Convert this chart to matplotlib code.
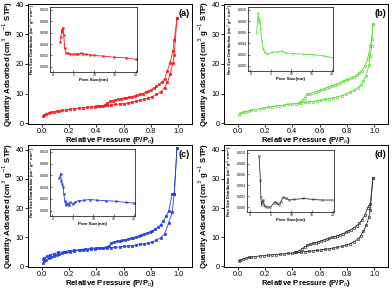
import matplotlib
matplotlib.use("Agg")
import matplotlib.pyplot as plt

plt.rcParams['font.family'] = ['Liberation Sans', 'DejaVu Sans']

# ---------------- data ----------------
# Panel (a)
a_ads_x = [0.01, 0.02, 0.03, 0.05, 0.07, 0.09, 0.11, 0.13, 0.15, 0.18, 0.21, 0.24, 0.27, 0.30, 0.33, 0.36, 0.39, 0.42, 0.45, 0.48, 0.51, 0.54, 0.57, 0.60, 0.63, 0.66, 0.69, 0.72, 0.75, 0.78, 0.81, 0.84, 0.87, 0.90, 0.92, 0.94, 0.96, 0.97, 0.99]
a_ads_y = [2.5, 2.9, 3.2, 3.5, 3.7, 3.9, 4.0, 4.2, 4.3, 4.5, 4.7, 4.9, 5.0, 5.2, 5.3, 5.5, 5.6, 5.7, 5.8, 6.0, 6.1, 6.3, 6.5, 6.6, 6.8, 7.1, 7.4, 7.7, 8.0, 8.5, 9.0, 9.7, 10.6, 12.0, 13.8, 16.5, 20.5, 23.0, 35.5]
a_des_x = [0.99, 0.97, 0.96, 0.94, 0.92, 0.90, 0.88, 0.86, 0.84, 0.82, 0.80, 0.78, 0.76, 0.74, 0.72, 0.70, 0.68, 0.66, 0.64, 0.62, 0.60, 0.58, 0.56, 0.54, 0.52, 0.50, 0.48, 0.46, 0.44, 0.42, 0.40]
a_des_y = [35.5, 28.0, 24.5, 20.5, 17.8, 15.0, 13.9, 13.1, 12.4, 11.8, 11.3, 10.8, 10.4, 10.0, 9.7, 9.4, 9.2, 9.0, 8.8, 8.6, 8.4, 8.2, 8.0, 7.8, 7.6, 7.4, 6.8, 6.1, 5.9, 5.8, 5.7]
a_psd_x = [1.9, 2.0, 2.2, 2.3, 2.4, 2.7, 2.9, 3.2, 3.7, 4.3, 4.9, 5.6, 6.1, 6.7, 7.3, 8.1, 8.9, 10.0, 12.0, 14.6, 17.5, 20.0]
a_psd_y = [0.0044, 0.0052, 0.0065, 0.0062, 0.0069, 0.0056, 0.0033, 0.0024, 0.0024, 0.0023, 0.0022, 0.0023, 0.0022, 0.0024, 0.0023, 0.0022, 0.0021, 0.0020, 0.0019, 0.0017, 0.0016, 0.0013]

# Panel (b)
b_ads_x = [0.01, 0.02, 0.04, 0.06, 0.08, 0.10, 0.13, 0.16, 0.19, 0.22, 0.25, 0.28, 0.31, 0.34, 0.37, 0.40, 0.43, 0.46, 0.49, 0.52, 0.55, 0.58, 0.61, 0.64, 0.67, 0.70, 0.73, 0.76, 0.79, 0.82, 0.85, 0.88, 0.90, 0.92, 0.94, 0.96, 0.97, 0.98, 0.99]
b_ads_y = [2.9, 3.3, 3.6, 3.9, 4.1, 4.3, 4.6, 4.9, 5.2, 5.4, 5.6, 5.8, 5.9, 6.1, 6.3, 6.5, 6.6, 6.8, 7.0, 7.1, 7.3, 7.5, 7.8, 8.0, 8.3, 8.6, 8.9, 9.3, 9.8, 10.4, 11.1, 12.0, 13.0, 14.3, 16.0, 19.5, 22.8, 26.0, 33.5]
b_des_x = [0.99, 0.98, 0.97, 0.96, 0.95, 0.93, 0.91, 0.89, 0.87, 0.85, 0.83, 0.81, 0.79, 0.77, 0.75, 0.73, 0.71, 0.69, 0.67, 0.65, 0.63, 0.61, 0.59, 0.57, 0.55, 0.53, 0.51, 0.49, 0.47, 0.45]
b_des_y = [33.5, 28.5, 26.0, 23.5, 21.7, 19.3, 17.8, 16.9, 16.2, 15.7, 15.3, 14.9, 14.5, 14.1, 13.7, 13.3, 12.9, 12.6, 12.3, 12.0, 11.6, 11.2, 10.9, 10.6, 10.3, 10.0, 9.7, 8.6, 7.5, 6.8]
b_psd_x = [1.5, 1.9, 2.1, 2.3, 2.5, 2.8, 3.1, 3.5, 4.1, 5.2, 6.4, 7.6, 8.8, 10.5, 12.9, 15.4, 17.9, 20.0]
b_psd_y = [0.0058, 0.0094, 0.0077, 0.0083, 0.0065, 0.0045, 0.0030, 0.0024, 0.0021, 0.0024, 0.0025, 0.0026, 0.0023, 0.0022, 0.0021, 0.0020, 0.0018, 0.0015]

# Panel (c)
c_ads_x = [0.01, 0.02, 0.03, 0.05, 0.07, 0.09, 0.11, 0.13, 0.15, 0.18, 0.21, 0.24, 0.27, 0.30, 0.33, 0.36, 0.39, 0.42, 0.45, 0.48, 0.51, 0.54, 0.57, 0.60, 0.63, 0.66, 0.69, 0.72, 0.75, 0.78, 0.81, 0.84, 0.87, 0.90, 0.93, 0.955, 0.97, 0.99]
c_ads_y = [1.0, 1.6, 2.1, 2.7, 3.1, 3.5, 3.8, 4.1, 4.4, 4.7, 5.0, 5.2, 5.4, 5.6, 5.7, 5.8, 6.0, 6.1, 6.2, 6.3, 6.4, 6.5, 6.6, 6.8, 6.9, 7.1, 7.3, 7.5, 7.7, 8.0, 8.4, 8.9, 9.8, 11.1, 15.0, 18.5, 24.8, 40.7]
c_des_x = [0.99, 0.97, 0.955, 0.93, 0.91, 0.89, 0.87, 0.85, 0.83, 0.81, 0.79, 0.77, 0.75, 0.73, 0.71, 0.69, 0.67, 0.65, 0.63, 0.61, 0.59, 0.57, 0.55, 0.53, 0.51, 0.49, 0.47, 0.44, 0.40, 0.36, 0.32, 0.28, 0.24, 0.20, 0.16, 0.12, 0.09, 0.06, 0.04, 0.02, 0.01]
c_des_y = [40.7, 24.8, 24.8, 19.0, 17.2, 15.5, 14.2, 13.3, 12.7, 12.2, 11.8, 11.4, 11.0, 10.7, 10.4, 10.1, 9.8, 9.6, 9.3, 9.1, 8.9, 8.7, 8.5, 8.3, 8.1, 6.8, 6.5, 6.4, 6.3, 6.1, 5.9, 5.7, 5.5, 5.3, 5.0, 4.7, 4.3, 3.8, 3.4, 2.9, 2.6]
c_psd_x = [1.7, 2.0, 2.2, 2.4, 2.6, 2.8, 3.0, 3.3, 3.6, 4.0, 4.4, 5.0, 5.6, 6.4, 7.6, 9.2, 10.8, 13.2, 15.6, 18.0, 20.0]
c_psd_y = [0.0055, 0.0063, 0.0050, 0.0046, 0.0040, 0.0028, 0.0017, 0.0009, 0.0013, 0.0009, 0.0014, 0.0012, 0.0015, 0.0017, 0.0018, 0.0019, 0.0018, 0.0017, 0.0016, 0.0014, 0.0013]

# Panel (d)
d_ads_x = [0.01, 0.02, 0.04, 0.06, 0.08, 0.10, 0.13, 0.16, 0.19, 0.22, 0.25, 0.28, 0.31, 0.34, 0.37, 0.40, 0.43, 0.46, 0.49, 0.52, 0.55, 0.58, 0.61, 0.64, 0.67, 0.70, 0.73, 0.76, 0.79, 0.82, 0.85, 0.88, 0.90, 0.92, 0.94, 0.96, 0.97, 0.99]
d_ads_y = [1.8, 2.2, 2.5, 2.8, 3.0, 3.1, 3.3, 3.5, 3.6, 3.8, 3.9, 4.0, 4.1, 4.3, 4.4, 4.5, 4.7, 4.8, 5.0, 5.1, 5.3, 5.4, 5.6, 5.8, 6.0, 6.2, 6.5, 6.8, 7.2, 7.7, 8.4, 9.3, 10.4, 12.0, 14.0, 16.8, 19.2, 30.5]
d_des_x = [0.99, 0.97, 0.96, 0.95, 0.93, 0.91, 0.89, 0.87, 0.85, 0.83, 0.81, 0.79, 0.77, 0.75, 0.73, 0.71, 0.69, 0.67, 0.65, 0.63, 0.61, 0.59, 0.57, 0.55, 0.53, 0.51, 0.49, 0.47, 0.45, 0.42]
d_des_y = [30.5, 21.5, 20.8, 20.0, 17.5, 16.0, 14.8, 13.9, 13.2, 12.6, 12.1, 11.6, 11.2, 10.8, 10.5, 10.2, 9.9, 9.6, 9.3, 9.0, 8.7, 8.4, 8.1, 7.8, 7.5, 7.2, 6.6, 6.0, 5.2, 4.8]
d_psd_x = [2.3, 2.6, 2.7, 2.9, 3.0, 3.3, 3.6, 4.3, 5.0, 5.8, 6.2, 6.5, 7.1, 7.5, 8.0, 8.8, 9.5, 10.7, 12.9, 15.2, 17.4, 19.7]
d_psd_y = [0.0094, 0.0049, 0.0019, 0.0004, 0.0008, 0.0013, 0.0002, 0.0000, 0.0000, 0.0007, 0.0010, 0.0008, 0.0004, 0.0010, 0.0018, 0.0016, 0.0013, 0.0014, 0.0016, 0.0014, 0.0013, 0.0013]

x_ticks = [0.0, 0.2, 0.4, 0.6, 0.8, 1.0]
y_ticks = [0, 10, 20, 30, 40]
ins_xticks = [0, 5, 10, 15, 20]
ins_yticks = [0.000, 0.002, 0.004, 0.006, 0.008, 0.010]
labels = ['(a)', '(b)', '(c)', '(d)']

# ---------------- figure ----------------
W, H = 392, 289
fig = plt.figure(figsize=(W / 100, H / 100), dpi=100)


def px_axes(l, t, r, b):
    return fig.add_axes([l / W, 1 - b / H, (r - l) / W, (b - t) / H])


panels = [
    dict(ox=0, oy=0, top=4, bot=124, ytop=40.3, color='#ff1a1a', marker='s', mfc='#ff1a1a',
         ads=(a_ads_x, a_ads_y), des=(a_des_x, a_des_y), psd=(a_psd_x, a_psd_y), lab=labels[0],
         ins=(50, 7, 137, 72)),
    dict(ox=196, oy=0, top=4, bot=124, ytop=40.3, color='#55dd33', marker='o', mfc='none',
         ads=(b_ads_x, b_ads_y), des=(b_des_x, b_des_y), psd=(b_psd_x, b_psd_y), lab=labels[1],
         ins=(52, 7, 137, 71)),
    dict(ox=0, oy=145, top=0, bot=122, ytop=41.7, color='#2540e0', marker='s', mfc='#2540e0',
         ads=(c_ads_x, c_ads_y), des=(c_des_x, c_des_y), psd=(c_psd_x, c_psd_y), lab=labels[2],
         ins=(50, 4, 135, 71)),
    dict(ox=196, oy=145, top=0, bot=122, ytop=41.7, color='#333333', marker='s', mfc='none',
         ads=(d_ads_x, d_ads_y), des=(d_des_x, d_des_y), psd=(d_psd_x, d_psd_y), lab=labels[3],
         ins=(51, 5, 138, 67)),
]

for p in panels:
    ox, oy = p['ox'], p['oy']
    ax = px_axes(ox + 28, oy + p['top'], ox + 192, oy + p['bot'])
    for (xs, ys) in (p['ads'], p['des']):
        ax.plot(xs, ys, color=p['color'], lw=0.6, marker=p['marker'], ms=1.8,
                mfc=p['mfc'], mec=p['color'], mew=0.5)
    ax.set_xlim(-0.1, 1.1)
    ax.set_ylim(-0.3, p['ytop'])
    ax.set_xticks(x_ticks)
    ax.set_xticklabels([f'{v:.1f}' for v in x_ticks])
    ax.set_yticks(y_ticks)
    ax.tick_params(direction='out', length=2, width=0.6, labelsize=5.3, pad=1.0)
    for s in ax.spines.values():
        s.set_linewidth(0.7)
    ax.set_xlabel('Relative Pressure (P/P$_o$)', fontsize=5.6, fontweight='bold', labelpad=0.2)
    ax.set_ylabel('Quantity Adsorbed (cm$^3$ g$^{-1}$ STP)', fontsize=5.6, fontweight='bold', labelpad=0.5)
    ax.text(0.955, 0.925, p['lab'], transform=ax.transAxes, fontsize=6.5, fontweight='bold',
            ha='center', va='center')

    l, t, r, b = p['ins']
    ia = px_axes(ox + l, oy + t, ox + r, oy + b)
    ia.plot(p['psd'][0], p['psd'][1], color=p['color'], lw=0.6, marker=p['marker'], ms=1.2,
            mfc=p['mfc'], mec=p['color'], mew=0.3)
    ia.set_xlim(-0.6, 20.2)
    ia.set_ylim(-0.0009, 0.0105)
    ia.set_xticks(ins_xticks)
    ia.set_yticks(ins_yticks)
    ia.set_yticklabels([f'{v:.3f}' for v in ins_yticks])
    ia.tick_params(direction='in', length=1.2, width=0.4, labelsize=2.6, pad=1)
    for s in ia.spines.values():
        s.set_linewidth(0.5)
    ia.set_xlabel('Pore Size(nm)', fontsize=3.2, fontweight='bold', labelpad=0.5)
    ia.set_ylabel('Pore Size Distribution (cm$^3$ g$^{-1}$ nm$^{-1}$)', fontsize=2.8,
                  fontweight='bold', labelpad=1)

fig.savefig('out.png', dpi=100)
